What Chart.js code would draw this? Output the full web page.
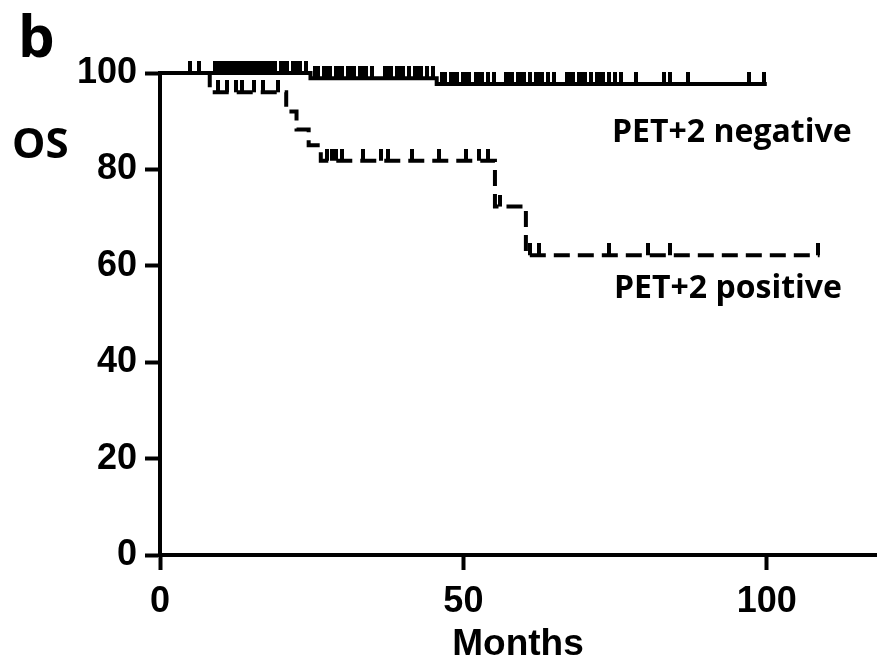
<!DOCTYPE html>
<html>
<head>
<meta charset="utf-8">
<script src="https://cdn.jsdelivr.net/npm/chart.js@4.4.0/dist/chart.umd.min.js"></script>
<style>
  html, body { margin: 0; padding: 0; background: #fff; }
  #wrap { width: 881px; height: 665px; }
</style>
</head>
<body>
<div id="wrap"><canvas id="osChart" width="881" height="665"></canvas></div>
<script>
// Overall survival (Kaplan-Meier) by PET+2 result, months
const negTimes = [0, 24.8, 45.6, 100];
const negSurv = [100, 98.9, 97.7, 97.7];
const posTimes = [0, 8.2, 20.8, 22.5, 24.5, 26.5, 55.2, 60.3, 108.7];
const posSurv = [100, 96, 92, 88.3, 85, 81.8, 72.3, 62.2, 62.2];

// censored follow-up times
const negCensored = [5, 6.5, 9, 9.5, 10, 10.5, 11, 11.5, 12, 12.5, 13, 13.5, 14, 14.5, 15, 15.5, 16, 16.5, 17, 17.5,
  18, 18.5, 19, 20, 20.5, 21, 22, 22.5, 23, 24,
  25.5, 26, 27, 27.5, 28, 29, 29.5, 30, 31, 31.5, 32, 33, 33.5, 34, 35, 37, 37.5, 38, 39, 39.5, 40, 41, 42, 42.5, 43, 44, 45,
  46.5, 47, 48, 48.5, 49, 50, 50.5, 51, 52, 52.5, 53, 54, 55, 57, 57.5, 58, 59, 59.5, 60, 61, 62, 62.5, 63, 64, 65,
  67, 67.5, 68, 69, 69.5, 70, 71, 72, 72.5, 73, 74, 75, 76,
  78.5, 83, 84, 87, 97, 99.5];
const posCensored = [9.5, 11, 12.5, 13.5, 15.5, 17, 19.5,
  27.5, 28.3, 29, 30, 33.5, 36.5, 37.5, 41.5, 46, 50.5, 52.5, 54,
  56, 61, 62.5, 74, 80.5, 84, 108.5];

const xTicks = [0, 50, 100];
const yTicks = [0, 20, 40, 60, 80, 100];

function toPoints(times, surv) {
  return times.map((t, i) => ({ x: t, y: surv[i] }));
}

// survival level of a step curve at time t
function survAt(times, surv, t) {
  let s = surv[0];
  for (let i = 0; i < times.length; i++) {
    if (times[i] <= t) s = surv[i];
  }
  return s;
}

function censorPoints(list, times, surv) {
  return list.map(t => ({ x: t, y: survAt(times, surv, t) }));
}

// upward tick used as the censor marker
const tick = document.createElement('canvas');
tick.width = 4;
tick.height = 24;
const tctx = tick.getContext('2d');
tctx.fillStyle = '#000';
tctx.fillRect(0, 0, 4, 12);

const tickFont = { family: '"Liberation Sans Narrow", "Arial Narrow", "Liberation Sans", sans-serif', size: 36, weight: 'bold' };

const textPlugin = {
  id: 'osText',
  afterDraw(chart) {
    const ctx = chart.ctx;
    ctx.save();
    ctx.fillStyle = '#000';
    ctx.textAlign = 'left';
    ctx.textBaseline = 'alphabetic';
    ctx.font = 'bold 58px "Open Sans"';
    ctx.fillText('b', 18, 57);
    ctx.font = 'bold 42px "Open Sans"';
    ctx.fillText('OS', 12, 158);
    ctx.font = 'bold 32px "Open Sans"';
    ctx.fillText('PET+2 negative', 612, 142);
    ctx.fillText('PET+2 positive', 614, 298);
    ctx.restore();
  }
};

new Chart(document.getElementById('osChart').getContext('2d'), {
  type: 'line',
  data: {
    datasets: [
      {
        label: 'PET+2 negative',
        data: toPoints(negTimes, negSurv),
        stepped: true,
        borderColor: '#000',
        borderWidth: 4,
        pointRadius: 0,
        clip: false
      },
      {
        label: 'PET+2 positive',
        data: toPoints(posTimes, posSurv),
        stepped: true,
        borderColor: '#000',
        borderWidth: 4,
        borderDash: [16, 8],
        pointRadius: 0,
        clip: false
      },
      {
        type: 'scatter',
        label: 'negative censored',
        data: censorPoints(negCensored, negTimes, negSurv),
        pointStyle: tick,
        pointRadius: 3,
        showLine: false,
        clip: false
      },
      {
        type: 'scatter',
        label: 'positive censored',
        data: censorPoints(posCensored, posTimes, posSurv),
        pointStyle: tick,
        pointRadius: 3,
        showLine: false,
        clip: false
      }
    ]
  },
  options: {
    responsive: false,
    animation: false,
    layout: { padding: { top: 73, right: 0, left: 0, bottom: 0 } },
    plugins: {
      legend: { display: false },
      tooltip: { enabled: false }
    },
    scales: {
      x: {
        type: 'linear',
        min: 0,
        max: 118,
        afterBuildTicks: scale => { scale.ticks = xTicks.map(v => ({ value: v })); },
        afterFit: scale => { scale.height = 110; },
        border: { color: '#000', width: 4 },
        grid: { drawOnChartArea: false, drawTicks: true, tickLength: 15, tickWidth: 4, tickColor: '#000' },
        ticks: { color: '#000', font: tickFont, padding: 10, maxRotation: 0 },
        title: {
          display: true,
          text: 'Months',
          color: '#000',
          font: { family: '"Liberation Sans", Arial, sans-serif', size: 37, weight: 'bold', lineHeight: 1 },
          padding: { top: 0, bottom: 2 }
        }
      },
      y: {
        min: 0,
        max: 100,
        afterBuildTicks: scale => { scale.ticks = yTicks.map(v => ({ value: v })); },
        afterFit: scale => { scale.width = 160; },
        border: { color: '#000', width: 4 },
        grid: { drawOnChartArea: false, drawTicks: true, tickLength: 15, tickWidth: 4, tickColor: '#000' },
        ticks: { color: '#000', font: tickFont, padding: 8 }
      }
    }
  },
  plugins: [textPlugin]
});
</script>
</body>
</html>
